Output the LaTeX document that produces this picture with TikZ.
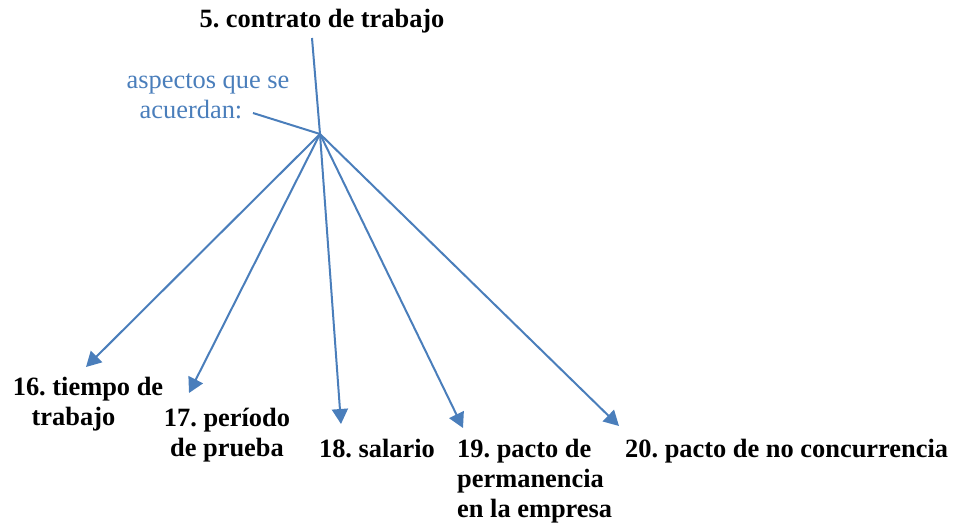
\documentclass[tikz,border=0pt]{standalone}
\usepackage{fontspec}
\setmainfont{Liberation Serif}
\usetikzlibrary{arrows.meta,positioning}
\definecolor{wordblue}{RGB}{74,126,187}
\newcommand{\bigtxt}{\fontsize{26.4}{30}\selectfont}
\frenchspacing

\begin{document}
\begin{tikzpicture}[x=1pt,y=-1pt,
    topic/.style={font=\bigtxt\bfseries,inner sep=0pt,anchor=base},
    aside/.style={font=\bigtxt,text=wordblue,inner sep=0pt,anchor=base,align=center},
    fan/.style={draw=wordblue,line width=2pt,-{Triangle[length=15pt,width=16pt]}},
    plain/.style={draw=wordblue,line width=2pt}]
    \useasboundingbox (0,0) rectangle (956,523);
    % hub and arrow ends
    \coordinate (hub) at (320,134);
    \coordinate (asideEnd) at (253,113);
    \coordinate (t16) at (86,367);
    \coordinate (t17) at (189,393);
    \coordinate (t18) at (341,424);
    \coordinate (t19) at (463,428);
    \coordinate (t20) at (619,426);
    % texts (base = last line)
    \node[topic] (contrato) at (322,27) {5. contrato de trabajo};
    \node[aside] (aspectos) at (208,118) {aspectos que se\\acuerdan:\hspace*{34pt}};
    \node[topic,align=center] (tiempo) at (88,425) {16. tiempo de\\trabajo\hspace*{29pt}};
    \node[topic,align=center] (periodo) at (227,456) {17. período\\de prueba};
    \node[topic] (salario) at (377,457) {18. salario};
    \node[topic,align=left,anchor=base west] (permanencia) at (457,517) {19. pacto de\\permanencia\\en la empresa};
    \node[topic,anchor=base west] (concurrencia) at (625,457) {20. pacto de no concurrencia};
    % connectors
    \draw[plain] ([xshift=-10pt,yshift=-11pt]contrato.base) -- (hub);
    \draw[plain] (asideEnd) -- (hub);
    \foreach \t in {t16,t17,t18,t19,t20}
      \draw[fan] (hub) -- (\t);
\end{tikzpicture}
\end{document}
